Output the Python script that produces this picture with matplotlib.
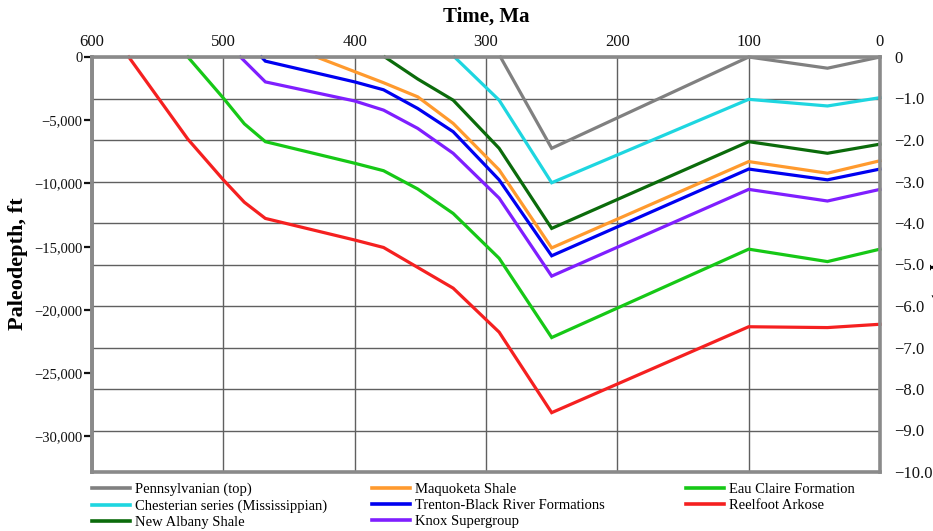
import matplotlib
matplotlib.use("Agg")
import matplotlib.pyplot as plt
from matplotlib.lines import Line2D

plt.rcParams['font.family'] = ['Liberation Serif', 'DejaVu Serif']

FT_PER_KM = 3280.84

# burial curves: age in Ma, paleodepth in km
penn_age = [289, 250, 100, 40, 0]
penn_km = [0, -2.20, 0, -0.27, 0]

chest_age = [324, 290, 250, 100, 40, 0]
chest_km = [0, -1.04, -3.03, -1.02, -1.18, -0.98]

albany_age = [377, 352, 325, 290, 250, 100, 40, 0]
albany_km = [0, -0.53, -1.04, -2.20, -4.13, -2.04, -2.32, -2.10]

maq_age = [429, 378, 352, 325, 290, 250, 100, 40, 0]
maq_km = [0, -0.62, -0.96, -1.60, -2.72, -4.60, -2.52, -2.80, -2.50]

trenton_age = [471, 468, 400, 378, 352, 325, 290, 250, 100, 40, 0]
trenton_km = [0, -0.10, -0.60, -0.79, -1.24, -1.80, -2.96, -4.79, -2.70, -2.96, -2.70]

knox_age = [487, 468, 400, 378, 352, 325, 290, 250, 100, 40, 0]
knox_km = [0, -0.60, -1.06, -1.28, -1.72, -2.32, -3.40, -5.28, -3.19, -3.47, -3.19]

eau_age = [527, 500, 484, 468, 400, 378, 352, 325, 290, 250, 100, 40, 0]
eau_km = [0, -0.99, -1.61, -2.04, -2.56, -2.74, -3.18, -3.77, -4.85, -6.76, -4.63, -4.93, -4.63]

reel_age = [572, 527, 500, 484, 468, 400, 378, 325, 290, 250, 100, 40, 0]
reel_km = [0, -1.98, -2.96, -3.50, -3.89, -4.41, -4.59, -5.57, -6.63, -8.57, -6.50, -6.52, -6.44]

names = ['Pennsylvanian (top)', 'Chesterian series (Mississippian)', 'New Albany Shale',
         'Maquoketa Shale', 'Trenton-Black River Formations', 'Knox Supergroup',
         'Eau Claire Formation', 'Reelfoot Arkose']
ages = [penn_age, chest_age, albany_age, maq_age, trenton_age, knox_age, eau_age, reel_age]
depths = [penn_km, chest_km, albany_km, maq_km, trenton_km, knox_km, eau_km, reel_km]
colors = ['#808080', '#1ed6e0', '#0b6b0b', '#ff9a2e', '#0000f0', '#7f1fff', '#16c816', '#f52020']

time_ticks = [600, 500, 400, 300, 200, 100, 0]
km_ticks = [0, -1, -2, -3, -4, -5, -6, -7, -8, -9, -10]
ft_ticks = [0, -5000, -10000, -15000, -20000, -25000, -30000]

W, H = 933, 531
fig = plt.figure(figsize=(W / 100, H / 100), dpi=100)
ax = fig.add_axes([92 / W, 1 - 472 / H, (880 - 92) / W, (472 - 57) / H])

for a, d, c in zip(ages, depths, colors):
    ax.plot(a, d, color=c, lw=2.3, solid_joinstyle='miter', clip_on=False, zorder=3)

ax.set_xlim(600, 0)
ax.set_ylim(-10, 0)

ax.xaxis.tick_top()
ax.set_xticks(time_ticks)
ax.set_xticklabels([str(t) for t in time_ticks])
ax.tick_params(axis='x', length=0, pad=5, labelsize=12, colors='#111111')

ax.yaxis.tick_right()
ax.set_yticks(km_ticks)
ax.set_yticklabels(['0' if k == 0 else '\u2212%.1f' % abs(k) for k in km_ticks])
ax.tick_params(axis='y', length=0, pad=10, labelsize=12, colors='#111111')

ax.grid(True, color='#606060', lw=1.0)
ax.set_axisbelow(True)

for s in ax.spines.values():
    s.set_color('#8a8a8a')
    s.set_linewidth(2.6)
    s.set_zorder(4)

# left axis in feet
sec = ax.secondary_yaxis('left', functions=(lambda k: k * FT_PER_KM, lambda f: f / FT_PER_KM))
sec.set_yticks(ft_ticks)
sec.set_yticklabels(['0' if f == 0 else '\u2212{:,}'.format(abs(f)) for f in ft_ticks])
sec.tick_params(axis='y', length=6, width=1.6, pad=1, labelsize=10.5, colors='#111111')
sec.spines['left'].set_color('#8a8a8a')
sec.spines['left'].set_linewidth(2.6)

fig.text(486 / W, 1 - 17 / H, 'Time, Ma', fontsize=15, fontweight='bold', ha='center', va='center')
fig.text(18 / W, 1 - 264 / H, 'Paleodepth, ft', fontsize=16, fontweight='bold',
         rotation=90, ha='center', va='center')
fig.text(929 / W, 1 - 264 / H, 'Paleodepth, km', fontsize=15, fontweight='bold',
         rotation=270, ha='left', va='center')

# legend in three columns at fixed positions
columns = [[0, 1, 2], [3, 4, 5], [6, 7]]
col_x = [92, 372, 686]
for idx, x0 in zip(columns, col_x):
    handles = [Line2D([], [], color=colors[i], lw=2.6) for i in idx]
    fig.legend(handles, [names[i] for i in idx], loc='upper left',
               bbox_to_anchor=(x0 / W, 1 - 483 / H), frameon=False, fontsize=10.5,
               borderpad=0, borderaxespad=0, handlelength=2.6, handletextpad=0.35,
               labelspacing=0.2)

fig.savefig('out.png', dpi=100)
